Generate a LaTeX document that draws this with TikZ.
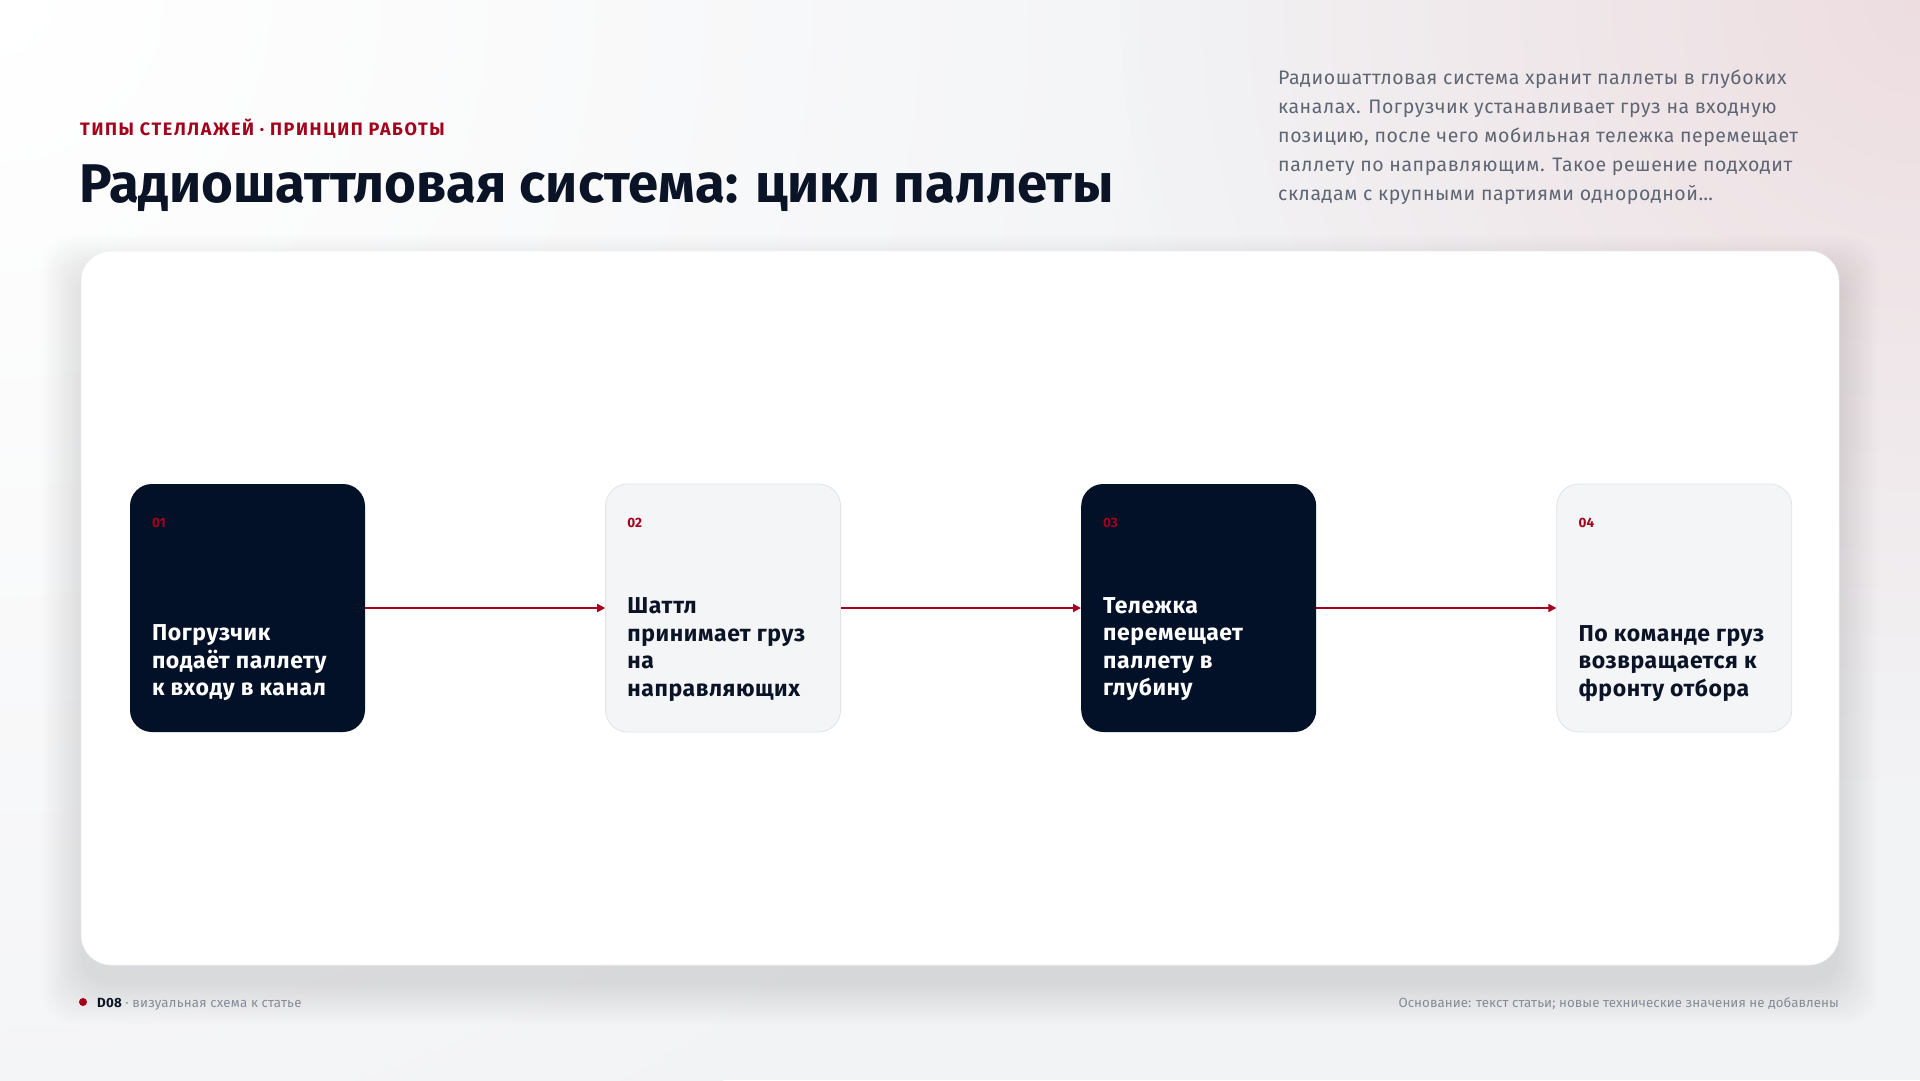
\documentclass[tikz,border=0pt]{standalone}
\usepackage{fontspec}
\setmainfont{Fira Sans}
\usepackage{tikz}
\usetikzlibrary{
	positioning,
	arrows.meta
}

\definecolor{inkNavy}{HTML}{0B1427}
\definecolor{boxNavy}{HTML}{021128}
\definecolor{accentRed}{HTML}{A3001B}
\definecolor{paperGray}{HTML}{F2F3F5}
\definecolor{boxLight}{HTML}{F4F5F7}
\definecolor{boxEdge}{HTML}{E1E3E7}
\definecolor{noteGray}{HTML}{5E6674}
\definecolor{footGray}{HTML}{858C98}
\definecolor{blush}{HTML}{EDDDE0}

\tikzset{
	stepbox/.style={rounded corners=22pt,minimum width=235pt,minimum height=248pt,inner sep=0pt},
	stepdark/.style={stepbox,fill=boxNavy},
	steplight/.style={stepbox,fill=boxLight,draw=boxEdge,line width=0.8pt},
	stepnum/.style={anchor=west,inner sep=0pt,text=accentRed,font=\fontsize{13.5}{13.5}\selectfont\bfseries},
	steptext/.style={anchor=south west,inner sep=0pt,align=left,font=\fontsize{23}{27.5}\selectfont\bfseries\addfontfeatures{LetterSpace=2.5}},
	flow/.style={draw=accentRed,line width=1.6pt,-{Triangle[length=8pt,width=8pt]}}
}

\begin{document}
\begin{tikzpicture}[x=1pt,y=-1pt]
	\useasboundingbox (0,0) rectangle (1920,1080);
	% background
	\fill[paperGray] (0,0) rectangle (1920,1080);
	\begin{scope}
		\clip (0,0) rectangle (1920,1080);
		\shade[inner color=white,outer color=paperGray] (0,0) circle (1300pt);
		\shade[inner color=blush,outer color=paperGray] (1920,0) circle (800pt);
	\end{scope}

	% header
	\node[anchor=base west,inner sep=0pt,text=accentRed,
		font=\fontsize{18}{18}\selectfont\bfseries\addfontfeatures{LetterSpace=9}]
		(kicker) at (80,135) {ТИПЫ СТЕЛЛАЖЕЙ · ПРИНЦИП РАБОТЫ};
	\node[anchor=base west,inner sep=0pt,text=inkNavy,
		font=\fontsize{54.5}{54.5}\selectfont\bfseries]
		(title) at (79,202) {Радиошаттловая система: цикл паллеты};
	\node[anchor=north west,inner sep=0pt,text=noteGray,align=left,
		font=\fontsize{19.5}{28.8}\selectfont\addfontfeatures{LetterSpace=2.8}]
		(note) at (1278,70) {Радиошаттловая система хранит паллеты в глубоких\\
		каналах. Погрузчик устанавливает груз на входную\\
		позицию, после чего мобильная тележка перемещает\\
		паллету по направляющим. Такое решение подходит\\
		складам с крупными партиями однородной\dots};

	% panel with soft shadow
	\foreach \s in {0,3,...,39}
		\fill[black,opacity=0.006,rounded corners=30pt]
			({81-\s},{251-\s+24}) rectangle ({1839+\s},{965+\s+20});
	\fill[white,draw=boxEdge!60,line width=0.5pt,rounded corners=30pt] (81,251) rectangle (1839,965);

	% steps
	\node[stepdark]                    (s1) at (247.5,608) {};
	\node[steplight,right=240pt of s1] (s2) {};
	\node[stepdark,right=240pt of s2]  (s3) {};
	\node[steplight,right=240pt of s3] (s4) {};

	\node[stepnum] (n1) at ([xshift=22pt,yshift=-39pt]s1.north west) {01};
	\node[stepnum] (n2) at ([xshift=22pt,yshift=-39pt]s2.north west) {02};
	\node[stepnum] (n3) at ([xshift=22pt,yshift=-39pt]s3.north west) {03};
	\node[stepnum] (n4) at ([xshift=22pt,yshift=-39pt]s4.north west) {04};

	\node[steptext,text=white]   (t1) at ([xshift=22pt,yshift=31pt]s1.south west) {Погрузчик\\подаёт паллету\\к входу в канал};
	\node[steptext,text=inkNavy] (t2) at ([xshift=22pt,yshift=31pt]s2.south west) {Шаттл\\принимает груз\\на\\направляющих};
	\node[steptext,text=white]   (t3) at ([xshift=22pt,yshift=31pt]s3.south west) {Тележка\\перемещает\\паллету в\\глубину};
	\node[steptext,text=inkNavy] (t4) at ([xshift=22pt,yshift=31pt]s4.south west) {По команде груз\\возвращается к\\фронту отбора};

	\draw[flow] (s1.east) -- (s2.west);
	\draw[flow] (s2.east) -- (s3.west);
	\draw[flow] (s3.east) -- (s4.west);

	% footer
	\fill[accentRed] (83,1002) circle (4pt);
	\node[anchor=base west,inner sep=0pt,font=\fontsize{13.3}{13.3}\selectfont\addfontfeatures{LetterSpace=1.5}]
		(tag) at (97,1007) {\textcolor{inkNavy}{\bfseries D08}\ \textcolor{footGray}{·\ визуальная схема к статье}};
	\node[anchor=base east,inner sep=0pt,text=footGray,font=\fontsize{13.3}{13.3}\selectfont\addfontfeatures{LetterSpace=0.6}]
		(source) at (1839,1007) {Основание: текст статьи; новые технические значения не добавлены};
\end{tikzpicture}
\end{document}
